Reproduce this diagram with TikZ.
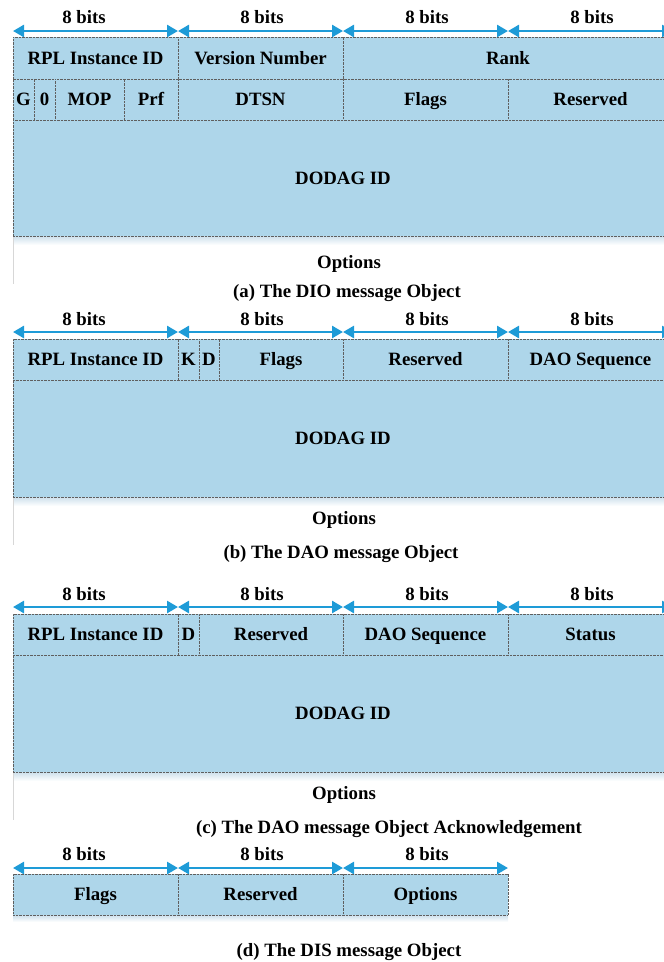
\documentclass[tikz,border=0pt]{standalone}
\usepackage{fontspec}
\setmainfont{Liberation Serif}
\usetikzlibrary{arrows.meta}
\definecolor{cellblue}{RGB}{174,214,234}
\definecolor{arrowblue}{RGB}{30,155,215}
\definecolor{edgegray}{RGB}{95,95,95}
\definecolor{shadowblue}{RGB}{205,224,236}
\definecolor{optline}{RGB}{215,215,215}
\newcommand\fieldcell[6]{\node[cell, minimum width={#4-#2}, minimum height={#5-#3}] (#1) at ({(#2+#4)/2},{(#3+#5)/2}) {#6};}
\begin{document}
\begin{tikzpicture}[x=1pt,y=-1pt,
  font=\fontsize{18.8}{22}\selectfont\bfseries,
  cell/.style={draw=edgegray, fill=cellblue, line width=0.6pt, dash pattern=on 0.9pt off 0.5pt, inner sep=0pt, anchor=center, text height=14.2pt, text depth=1.8pt},
  lbl/.style={inner sep=0pt, anchor=center, text height=14.2pt, text depth=1.8pt},
  dimarrow/.style={draw=arrowblue, line width=2.6pt, {Triangle[length=11pt,width=12pt,fill=arrowblue]}-{Triangle[length=11pt,width=12pt,fill=arrowblue]}},
  optrule/.style={draw=optline, line width=0.8pt},
  shadowband/.style={top color=shadowblue, bottom color=white, draw=none}]
\useasboundingbox (0,0) rectangle (664,962);
\clip (0,0) rectangle (664,962);

% ================= (a) DIO =================
\foreach \i/\x in {0/13,1/178,2/343,3/508,4/673}{\coordinate (aa\i) at (\x,31);}
\draw[dimarrow] (aa0) -- (aa1);
\draw[dimarrow] (aa1) -- (aa2);
\draw[dimarrow] (aa2) -- (aa3);
\draw[dimarrow] (aa3) -- (aa4);
\node[lbl] (abits1) at (84,17) {8 bits};
\node[lbl] (abits2) at (262,17) {8 bits};
\node[lbl] (abits3) at (427,17) {8 bits};
\node[lbl] (abits4) at (592,17) {8 bits};

\shade[shadowband] (13,236) rectangle (673,245);
\fieldcell{aRPL}{13}{37}{178}{79}{RPL Instance ID}
\fieldcell{aVer}{178}{37}{343}{79}{Version Number}
\fieldcell{aRank}{343}{37}{673}{79}{Rank}
\fieldcell{aG}{13}{79}{34}{120}{G}
\fieldcell{aZero}{34}{79}{55}{120}{0}
\fieldcell{aMOP}{55}{79}{124}{120}{MOP}
\fieldcell{aPrf}{124}{79}{178}{120}{Prf}
\fieldcell{aDTSN}{178}{79}{343}{120}{DTSN}
\fieldcell{aFlags}{343}{79}{508}{120}{Flags}
\fieldcell{aRes}{508}{79}{673}{120}{Reserved}
\fieldcell{aDodag}{13}{120}{673}{236}{DODAG ID}
\coordinate (aopt0) at (13,237);
\coordinate (aopt1) at (13,284);
\draw[optrule] (aopt0) -- (aopt1);
\node[lbl] (aOpt) at (349,262) {Options};
\node[lbl] (aCap) at (347,291) {(a) The DIO message Object};

% ================= (b) DAO =================
\foreach \i/\x in {0/13,1/178,2/343,3/508,4/673}{\coordinate (ba\i) at (\x,332);}
\draw[dimarrow] (ba0) -- (ba1);
\draw[dimarrow] (ba1) -- (ba2);
\draw[dimarrow] (ba2) -- (ba3);
\draw[dimarrow] (ba3) -- (ba4);
\node[lbl] (bbits1) at (84,319) {8 bits};
\node[lbl] (bbits2) at (262,319) {8 bits};
\node[lbl] (bbits3) at (427,319) {8 bits};
\node[lbl] (bbits4) at (592,319) {8 bits};

\shade[shadowband] (13,497) rectangle (673,506);
\fieldcell{bRPL}{13}{339}{178}{380}{RPL Instance ID}
\fieldcell{bK}{178}{339}{199}{380}{K}
\fieldcell{bD}{199}{339}{219}{380}{D}
\fieldcell{bFlags}{219}{339}{343}{380}{Flags}
\fieldcell{bRes}{343}{339}{508}{380}{Reserved}
\fieldcell{bSeq}{508}{339}{673}{380}{DAO Sequence}
\fieldcell{bDodag}{13}{380}{673}{497}{DODAG ID}
\coordinate (bopt0) at (13,498);
\coordinate (bopt1) at (13,545);
\draw[optrule] (bopt0) -- (bopt1);
\node[lbl] (bOpt) at (344,518) {Options};
\node[lbl] (bCap) at (341,552) {(b) The DAO message Object};

% ================= (c) DAO-ACK =================
\foreach \i/\x in {0/13,1/178,2/343,3/508,4/673}{\coordinate (ca\i) at (\x,607);}
\draw[dimarrow] (ca0) -- (ca1);
\draw[dimarrow] (ca1) -- (ca2);
\draw[dimarrow] (ca2) -- (ca3);
\draw[dimarrow] (ca3) -- (ca4);
\node[lbl] (cbits1) at (84,594) {8 bits};
\node[lbl] (cbits2) at (262,594) {8 bits};
\node[lbl] (cbits3) at (427,594) {8 bits};
\node[lbl] (cbits4) at (592,594) {8 bits};

\shade[shadowband] (13,772) rectangle (673,781);
\fieldcell{cRPL}{13}{614}{178}{655}{RPL Instance ID}
\fieldcell{cD}{178}{614}{199}{655}{D}
\fieldcell{cRes}{199}{614}{343}{655}{Reserved}
\fieldcell{cSeq}{343}{614}{508}{655}{DAO Sequence}
\fieldcell{cStatus}{508}{614}{673}{655}{Status}
\fieldcell{cDodag}{13}{655}{673}{772}{DODAG ID}
\coordinate (copt0) at (13,773);
\coordinate (copt1) at (13,820);
\draw[optrule] (copt0) -- (copt1);
\node[lbl] (cOpt) at (344,793) {Options};
\node[lbl] (cCap) at (389,827) {(c) The DAO message Object Acknowledgement};

% ================= (d) DIS =================
\foreach \i/\x in {0/13,1/178,2/343,3/508}{\coordinate (da\i) at (\x,868);}
\draw[dimarrow] (da0) -- (da1);
\draw[dimarrow] (da1) -- (da2);
\draw[dimarrow] (da2) -- (da3);
\node[lbl] (dbits1) at (84,854) {8 bits};
\node[lbl] (dbits2) at (262,854) {8 bits};
\node[lbl] (dbits3) at (427,854) {8 bits};

\shade[shadowband] (13,915) rectangle (508,922);
\fieldcell{dFlags}{13}{874}{178}{915}{Flags}
\fieldcell{dRes}{178}{874}{343}{915}{Reserved}
\fieldcell{dOpt}{343}{874}{508}{915}{Options}
\node[lbl] (dCap) at (349,950) {(d) The DIS message Object};
\end{tikzpicture}
\end{document}
